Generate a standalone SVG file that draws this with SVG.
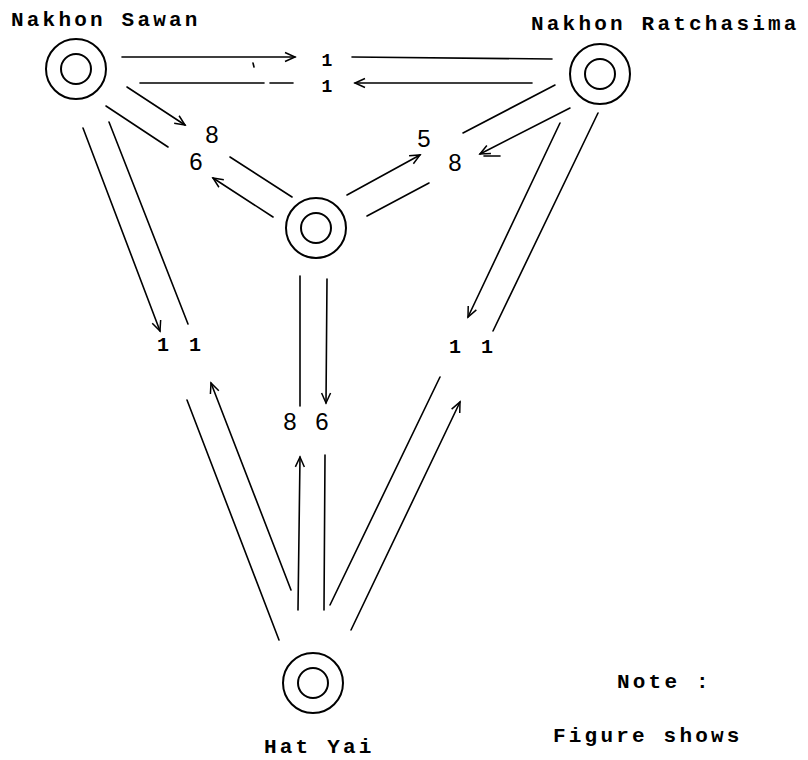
<svg xmlns="http://www.w3.org/2000/svg" width="808" height="760" viewBox="0 0 808 760">
  <defs>
    <marker id="arr" markerUnits="userSpaceOnUse" orient="auto" refX="0" refY="0" markerWidth="14" markerHeight="14" viewBox="-12 -7 14 14" overflow="visible">
      <path d="M-10,-4.5 L0,0 L-10,4.5" fill="none" stroke="#000" stroke-width="1.5"/>
    </marker>
    <g id="station">
      <circle r="30" fill="none" stroke="#000" stroke-width="2"/>
      <circle r="15" fill="none" stroke="#000" stroke-width="2"/>
    </g>
  </defs>
  <style>
    .name { font-family: "Liberation Mono", "DejaVu Sans Mono", monospace; font-weight: bold; font-size: 21px; letter-spacing: 3.2px; fill: #000; }
    .one { font-family: "Liberation Mono", "DejaVu Sans Mono", monospace; font-weight: bold; fill: #000; text-anchor: middle; }
    .num { font-family: "Liberation Sans", Arial, sans-serif; font-size: 24px; fill: #000; text-anchor: middle; }
    .ln { stroke: #000; stroke-width: 1.6; fill: none; stroke-linecap: round; }
    .ar { marker-end: url(#arr); }
  </style>
  <rect width="808" height="760" fill="#fff"/>

  <!-- stations -->
  <g id="nakhon-sawan">
    <use href="#station" x="76" y="69"/>
    <text class="name" x="11" y="26">Nakhon Sawan</text>
  </g>
  <g id="nakhon-ratchasima">
    <use href="#station" x="600" y="74"/>
    <text class="name" x="531" y="30">Nakhon Ratchasima</text>
  </g>
  <g id="hub">
    <use href="#station" x="316" y="228"/>
  </g>
  <g id="hat-yai">
    <use href="#station" x="313" y="683"/>
    <text class="name" x="264" y="753">Hat Yai</text>
  </g>

  <!-- flows between stations -->
  <g id="connectors">
    <!-- Nakhon Sawan / Nakhon Ratchasima -->
    <line class="ln ar" x1="122" y1="57" x2="295" y2="57"/>
    <line class="ln" x1="352" y1="57" x2="552" y2="59"/>
    <line class="ln" x1="140" y1="83" x2="264" y2="83"/>
    <line class="ln" x1="270" y1="83" x2="293" y2="83"/>
    <line class="ln ar" x1="532" y1="83" x2="355" y2="83"/>
    <line class="ln" x1="253" y1="63" x2="254" y2="67"/>

    <!-- Nakhon Sawan / hub -->
    <line class="ln ar" x1="127" y1="87" x2="185" y2="125"/>
    <line class="ln" x1="230" y1="157" x2="292" y2="197"/>
    <line class="ln" x1="106" y1="106" x2="168" y2="147"/>
    <line class="ln ar" x1="273" y1="217" x2="213" y2="178"/>

    <!-- hub / Nakhon Ratchasima -->
    <line class="ln ar" x1="347" y1="195" x2="420" y2="155"/>
    <line class="ln" x1="463" y1="133" x2="555" y2="85"/>
    <line class="ln ar" x1="570" y1="108" x2="480" y2="154"/>
    <line class="ln" x1="484" y1="156" x2="500" y2="156"/>
    <line class="ln" x1="429" y1="183" x2="367" y2="216"/>

    <!-- Nakhon Ratchasima / Hat Yai -->
    <line class="ln ar" x1="560" y1="123" x2="468" y2="317"/>
    <line class="ln" x1="598" y1="113" x2="493" y2="331"/>
    <line class="ln" x1="440" y1="377" x2="330" y2="605"/>
    <line class="ln ar" x1="351" y1="630" x2="460" y2="402"/>

    <!-- Nakhon Sawan / Hat Yai -->
    <line class="ln ar" x1="83" y1="128" x2="160" y2="331"/>
    <line class="ln" x1="109" y1="122" x2="188" y2="324"/>
    <line class="ln" x1="187" y1="400" x2="279" y2="640"/>
    <line class="ln ar" x1="291" y1="590" x2="211" y2="383"/>

    <!-- hub / Hat Yai -->
    <line class="ln" x1="300" y1="276" x2="300" y2="406"/>
    <line class="ln ar" x1="327" y1="279" x2="326" y2="403"/>
    <line class="ln ar" x1="298" y1="610" x2="300" y2="457"/>
    <line class="ln" x1="324" y1="610" x2="325" y2="455"/>
  </g>

  <!-- flow values -->
  <g id="values">
    <text class="one" x="327" y="66" font-size="18">1</text>
    <text class="one" x="327" y="92" font-size="18">1</text>
    <text class="num" x="212" y="143">8</text>
    <text class="num" x="196" y="170">6</text>
    <text class="num" x="424" y="147">5</text>
    <text class="num" x="455" y="171">8</text>
    <text class="one" x="163" y="351" font-size="20">1</text>
    <text class="one" x="195" y="351" font-size="20">1</text>
    <text class="one" x="455" y="353" font-size="20">1</text>
    <text class="one" x="487" y="353" font-size="20">1</text>
    <text class="num" x="290" y="430">8</text>
    <text class="num" x="322" y="430">6</text>
  </g>

  <!-- note -->
  <g id="note">
    <text class="name" x="617" y="688">Note :</text>
    <text class="name" x="553" y="742">Figure shows</text>
  </g>
</svg>
